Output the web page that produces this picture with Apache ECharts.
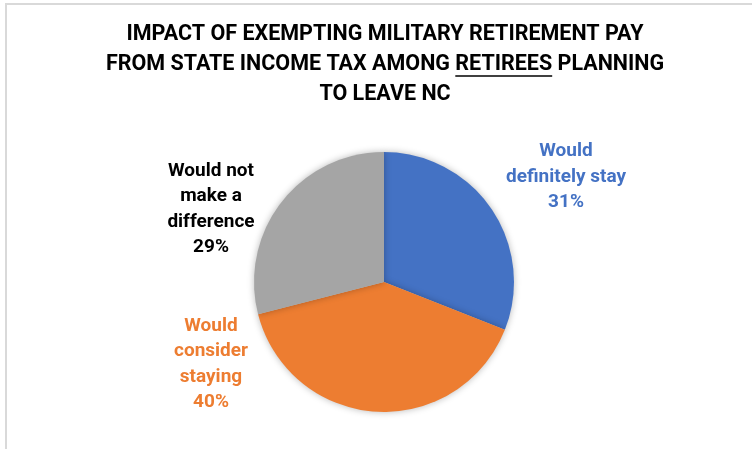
<!DOCTYPE html>
<html>
<head>
<meta charset="utf-8">
<script src="https://cdn.jsdelivr.net/npm/echarts@6/dist/echarts.min.js"></script>
<style>
  html, body { margin: 0; padding: 0; background: #ffffff; }
  #chart { width: 752px; height: 449px; }
</style>
</head>
<body>
<div id="chart"></div>
<script>
// Title text, one entry per line; one word of the second line is underlined
const titleLines = [
  'IMPACT OF EXEMPTING MILITARY RETIREMENT PAY',
  'FROM STATE INCOME TAX AMONG RETIREES PLANNING',
  'TO LEAVE NC'
];
const underlinedWord = 'RETIREES';

// Pie slices, in clockwise order from 12 o'clock
const categories = ['Would definitely stay', 'Would consider staying', 'Would not make a difference'];
const labelLines = [
  ['Would', 'definitely stay'],
  ['Would', 'consider', 'staying'],
  ['Would not', 'make a', 'difference']
];
const shares = [31, 40, 29];
const sliceColors = ['#4472C4', '#ED7D31', '#A5A5A5'];
const labelColors = ['#4472C4', '#ED7D31', '#000000'];

// Label block centres (layout only)
const labelAnchors = [[566, 177], [211, 364], [211, 209]];

const FONT = 'Roboto, "Liberation Sans", sans-serif';
const titleSize = 21.5;
const titleCx = 385;
const titleY = [34.5, 64.5, 94.5];

const chart = echarts.init(document.getElementById('chart'), null, { renderer: 'canvas' });

// Measure title text to place the underline under the chosen word
const ctx = document.createElement('canvas').getContext('2d');
ctx.font = 'bold ' + titleSize + 'px ' + FONT;
const ulLine = titleLines[1];
const ulStart = ulLine.indexOf(underlinedWord);
const fullW = ctx.measureText(ulLine).width;
const preW = ctx.measureText(ulLine.slice(0, ulStart)).width;
const wordW = ctx.measureText(underlinedWord).width;
const ulX0 = titleCx - fullW / 2 + preW;
const ulY = titleY[1] + 11.5;

const graphics = [
  {
    type: 'rect',
    z: -10,
    shape: { x: 6, y: 4, width: 800, height: 500 },
    style: { fill: 'none', stroke: '#d9d9d9', lineWidth: 2 },
    silent: true
  }
];
titleLines.forEach(function (t, i) {
  graphics.push({
    type: 'text',
    x: titleCx,
    y: titleY[i],
    style: {
      text: t,
      fill: '#000000',
      font: 'bold ' + titleSize + 'px ' + FONT,
      textAlign: 'center',
      textVerticalAlign: 'middle'
    },
    silent: true
  });
});
graphics.push({
  type: 'line',
  shape: { x1: ulX0, y1: ulY, x2: ulX0 + wordW, y2: ulY },
  style: { stroke: '#000000', lineWidth: 1.5 },
  silent: true
});

const option = {
  animation: false,
  backgroundColor: '#ffffff',
  graphic: graphics,
  series: [
    {
      type: 'pie',
      center: [384, 282],
      radius: 130,
      startAngle: 90,
      clockwise: true,
      avoidLabelOverlap: false,
      emphasis: { disabled: true },
      itemStyle: {
        borderWidth: 0,
        shadowBlur: 7,
        shadowColor: 'rgba(0,0,0,0.28)'
      },
      label: {
        show: true,
        position: 'outside',
        fontFamily: FONT,
        fontWeight: 'bold',
        fontSize: 19,
        lineHeight: 25.5,
        align: 'center',
        formatter: function (p) {
          return labelLines[p.dataIndex].join('\n') + '\n' + p.value + '%';
        }
      },
      labelLine: { show: false },
      labelLayout: function (p) {
        const a = labelAnchors[p.dataIndex];
        return { x: a[0], y: a[1], align: 'center', verticalAlign: 'middle' };
      },
      data: categories.map(function (name, i) {
        return {
          name: name,
          value: shares[i],
          itemStyle: { color: sliceColors[i] },
          label: { color: labelColors[i] }
        };
      })
    }
  ]
};

chart.setOption(option);
</script>
</body>
</html>
